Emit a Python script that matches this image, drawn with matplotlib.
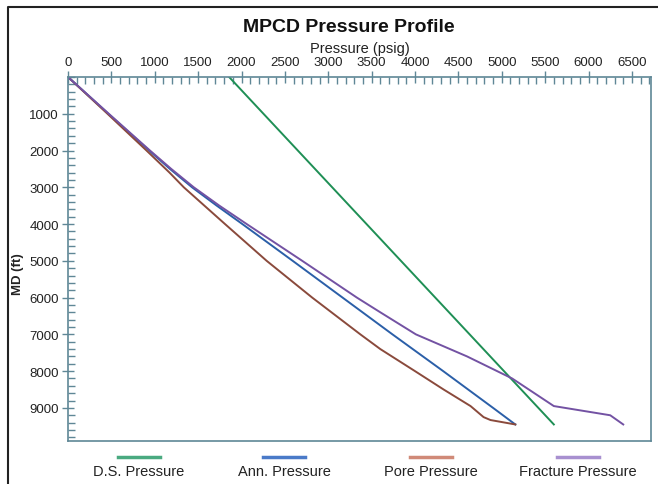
import matplotlib
matplotlib.use("Agg")
import matplotlib.pyplot as plt
from matplotlib.lines import Line2D
from matplotlib.ticker import MultipleLocator

plt.rcParams["font.family"] = ["Liberation Sans", "DejaVu Sans"]

# depth (ft) / pressure (psig)
ds_depth = [0, 9450]
ds_psi = [1857, 5600]

ann_depth = [0, 1000, 2000, 2500, 3000, 3500, 4000, 5000, 6000, 7000, 8000, 9000, 9450]
ann_psi = [0, 465, 935, 1175, 1430, 1715, 2010, 2590, 3165, 3740, 4325, 4900, 5156]

pore_depth = [0, 1000, 2000, 2600, 3000, 4000, 5000, 6000, 7000, 7400,
              8000, 8500, 8950, 9250, 9330, 9450]
pore_psi = [0, 455, 905, 1170, 1335, 1810, 2290, 2815, 3370, 3600,
            4000, 4330, 4640, 4790, 4870, 5156]

frac_depth = [0, 1000, 2000, 2500, 3000, 3500, 4000, 5000, 6000, 6400, 7000, 7600,
              8200, 8950, 9200, 9450]
frac_psi = [0, 470, 945, 1190, 1450, 1745, 2060, 2700, 3330, 3600, 4010, 4600,
            5120, 5600, 6250, 6400]

series = [
    ("D.S. Pressure", ds_psi, ds_depth, "#1f8f55", "#4aaa80"),
    ("Ann. Pressure", ann_psi, ann_depth, "#2b5fa8", "#4a7ac8"),
    ("Pore Pressure", pore_psi, pore_depth, "#8a4a3c", "#d08a78"),
    ("Fracture Pressure", frac_psi, frac_depth, "#7352a3", "#a890d0"),
]

spine_col = "#5f8796"
text_col = "#222222"

fig = plt.figure(figsize=(6.58, 4.85), dpi=100)
ax = fig.add_axes([68 / 658, 1 - 442 / 485, (651 - 68) / 658, (442 - 78) / 485])

for name, x, y, col, _ in series:
    ax.plot(x, y, color=col, lw=1.4)

ax.set_xlim(0, 6720)
ax.set_ylim(9900, 0)

ax.xaxis.tick_top()
ax.xaxis.set_label_position("top")
ax.xaxis.set_major_locator(MultipleLocator(500))
ax.xaxis.set_minor_locator(MultipleLocator(100))
ax.set_yticks(range(1000, 10000, 1000))
ax.yaxis.set_minor_locator(MultipleLocator(200))

ax.tick_params(which="major", direction="inout", length=9, width=1,
               color=spine_col, labelsize=9.5, labelcolor=text_col, pad=2)
ax.tick_params(which="minor", direction="in", length=5, width=1, color=spine_col)
ax.tick_params(axis="y", which="both", right=False)
ax.tick_params(axis="x", which="both", bottom=False)

for s in ax.spines.values():
    s.set_color(spine_col)
    s.set_linewidth(1.2)

ax.set_xlabel("Pressure (psig)", fontsize=10.5, color=text_col, labelpad=3)
ax.set_ylabel("MD (ft)", fontsize=9.5, color=text_col, fontweight="bold")
ax.yaxis.set_label_coords(-0.075, 0.46)

fig.text(349 / 658, 1 - 28 / 485, "MPCD Pressure Profile", ha="center", va="center",
         fontsize=14, fontweight="bold", color="#111111")

# legend below the plot: line above each label
centers = [139, 284, 431, 578]
for (name, _, _, _, lcol), cx in zip(series, centers):
    fx = cx / 658
    fig.add_artist(Line2D([fx - 21 / 658, fx + 21 / 658], [1 - 458 / 485] * 2,
                          transform=fig.transFigure, color=lcol, lw=2.5))
    fig.text(fx, 1 - 472 / 485, name, ha="center", va="center",
             fontsize=10.5, color=text_col)

# outer frame (left and top)
fig.add_artist(Line2D([8 / 658, 8 / 658, 1], [0, 1 - 8 / 485, 1 - 8 / 485],
                      transform=fig.transFigure, color="#222222", lw=1.5))

fig.savefig("out.png", dpi=100)
